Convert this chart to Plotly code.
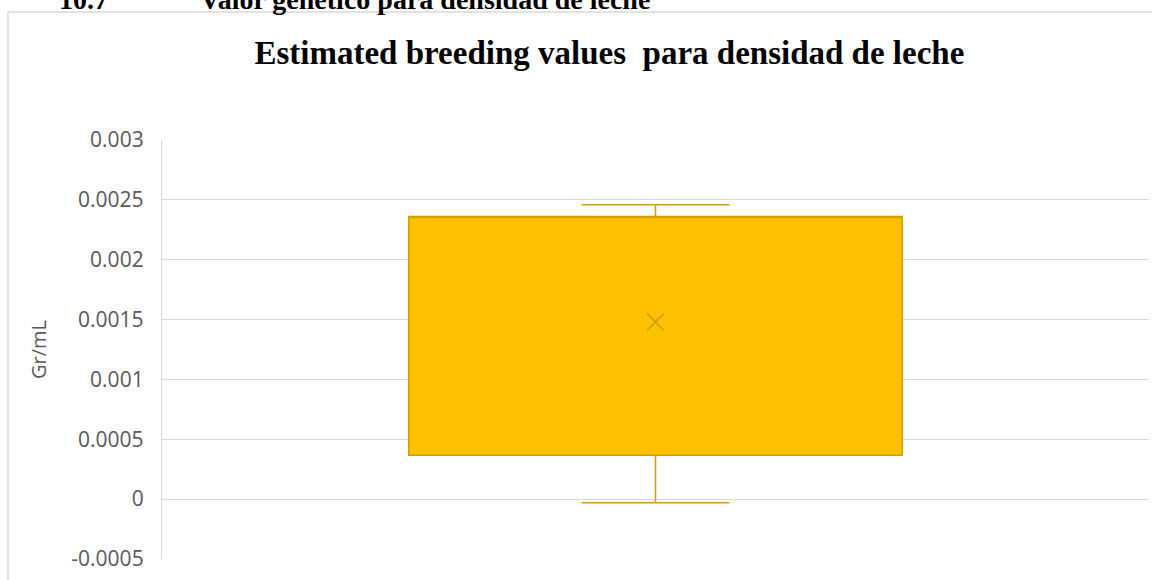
import plotly.graph_objects as go

# box statistics (Gr/mL)
lower_fence = [-0.00003]
q1 = [0.000366]
median = [0.00236]
q3 = [0.00236]
upper_fence = [0.00246]
mean = [0.00148]

y_ticks = [-0.0005, 0, 0.0005, 0.001, 0.0015, 0.002, 0.0025, 0.003]
y_tick_text = ["-0.0005", "0", "0.0005", "0.001", "0.0015", "0.002", "0.0025", "0.003"]

fill_color = "#FFC000"
edge_color = "#D1A000"
grid_color = "#D9D9D9"
text_grey = "#595959"

W, H = 1152, 580
L, R, T, B = 162, 3, 140, 21
pw, ph = W - L - R, H - T - B


def px_x(x):
    return (x - L) / pw


def px_y(y):
    return 1 - (y - T) / ph


fig = go.Figure()
fig.add_trace(
    go.Box(
        x=[0],
        q1=q1,
        median=median,
        q3=q3,
        lowerfence=lower_fence,
        upperfence=upper_fence,
        width=0.5,
        whiskerwidth=0.3,
        fillcolor=fill_color,
        line=dict(color=edge_color, width=1.5),
        hoverinfo="skip",
    )
)
fig.add_trace(
    go.Scatter(
        x=[0],
        y=mean,
        mode="markers",
        marker=dict(
            symbol="x-thin-open",
            size=17,
            color="#C79A10",
            line=dict(color="#C79A10", width=1.3),
        ),
        hoverinfo="skip",
    )
)

fig.update_layout(
    width=W,
    height=H,
    margin=dict(l=L, r=R, t=T, b=B),
    plot_bgcolor="white",
    paper_bgcolor="white",
    showlegend=False,
    title=dict(
        text="<b>Estimated breeding values  para densidad de leche</b>",
        font=dict(family="Liberation Serif", size=33, color="black"),
        x=0.529,
        xanchor="center",
        y=1 - 52 / H,
        yanchor="middle",
    ),
)
fig.update_xaxes(
    range=[-0.5, 0.5],
    showticklabels=False,
    showgrid=False,
    zeroline=False,
    showline=False,
    fixedrange=True,
)
fig.update_yaxes(
    range=[-0.0005, 0.003],
    tickvals=y_ticks,
    ticktext=y_tick_text,
    showgrid=True,
    gridcolor=grid_color,
    gridwidth=1.3,
    zeroline=False,
    showline=True,
    linecolor=grid_color,
    linewidth=1.3,
    ticks="",
    ticklabelstandoff=13,
    tickfont=dict(family="Open Sans", size=21, color=text_grey),
    title=dict(text="Gr/mL", font=dict(family="Open Sans", size=20, color=text_grey), standoff=19),
)

# outer chart frame (left and top edges visible)
fig.add_shape(
    type="rect",
    xref="paper",
    yref="paper",
    x0=px_x(8),
    x1=px_x(1160),
    y0=px_y(600),
    y1=px_y(12),
    line=dict(color=grid_color, width=1.5),
    fillcolor="rgba(0,0,0,0)",
    layer="below",
)

# document heading cut off at the top edge
fig.add_annotation(
    text="<b>10.7</b>",
    xref="paper",
    yref="paper",
    x=px_x(57),
    y=px_y(17),
    xanchor="left",
    yanchor="bottom",
    showarrow=False,
    font=dict(family="Liberation Serif", size=28, color="black"),
)
fig.add_annotation(
    text="<b>Valor genético para densidad de leche</b>",
    xref="paper",
    yref="paper",
    x=px_x(198),
    y=px_y(17),
    xanchor="left",
    yanchor="bottom",
    showarrow=False,
    font=dict(family="Liberation Serif", size=28, color="black"),
)

fig.write_html(
    "out.html",
    config={"displayModeBar": False},
    post_script="document.body.style.margin='0';",
)
